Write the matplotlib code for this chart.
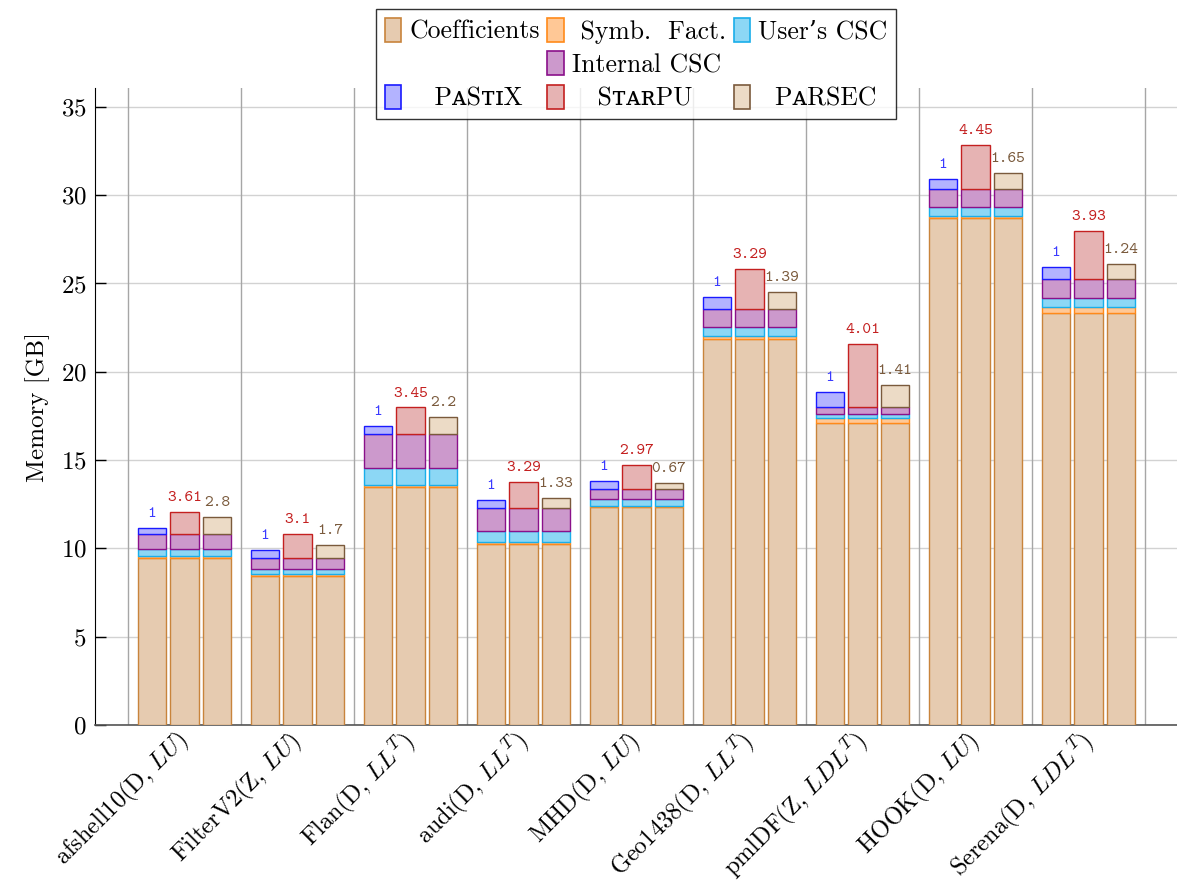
from __future__ import annotations

import matplotlib

matplotlib.use("Agg")
import matplotlib.pyplot as plt
import matplotlib.transforms as mtransforms
import numpy as np
from matplotlib.patches import Rectangle

plt.rcParams["font.family"] = ["cmr10", "DejaVu Serif"]
plt.rcParams["mathtext.fontset"] = "cm"
plt.rcParams["axes.formatter.use_mathtext"] = True
plt.rcParams["axes.unicode_minus"] = False

matrices = [
    "afshell10(D, $LU$)",
    "FilterV2(Z, $LU$)",
    "Flan(D, $LL^T$)",
    "audi(D, $LL^T$)",
    "MHD(D, $LU$)",
    "Geo1438(D, $LL^T$)",
    "pmlDF(Z, $LDL^T$)",
    "HOOK(D, $LU$)",
    "Serena(D, $LDL^T$)",
]

# shared memory parts (GB)
coefficients = [9.45, 8.45, 13.5, 10.27, 12.32, 21.84, 17.08, 28.69, 23.31]
symb_fact = [0.10, 0.10, 0.10, 0.08, 0.08, 0.21, 0.29, 0.15, 0.34]
user_csc = [0.42, 0.30, 0.97, 0.65, 0.41, 0.51, 0.22, 0.51, 0.55]
internal_csc = [0.85, 0.59, 1.89, 1.27, 0.57, 1.01, 0.40, 0.98, 1.04]

# runtime specific overhead (GB)
pastix_extra = [0.35, 0.45, 0.45, 0.45, 0.45, 0.68, 0.89, 0.57, 0.69]
starpu_extra = [1.25, 1.38, 1.52, 1.48, 1.32, 2.26, 3.58, 2.50, 2.72]
parsec_extra = [0.97, 0.77, 0.97, 0.60, 0.30, 0.95, 1.25, 0.93, 0.86]

pastix_ratio = ["1", "1", "1", "1", "1", "1", "1", "1", "1"]
starpu_ratio = ["3.61", "3.1", "3.45", "3.29", "2.97", "3.29", "4.01", "4.45", "3.93"]
parsec_ratio = ["2.8", "1.7", "2.2", "1.33", "0.67", "1.39", "1.41", "1.65", "1.24"]

yticks = [0, 5, 10, 15, 20, 25, 30, 35]

base_parts = [
    ("Coefficients", coefficients, "#e6cbb0", "#c8843c"),
    (" Symb.  Fact.", symb_fact, "#ffc896", "#ff8a1a"),
    ("User\u2019s CSC", user_csc, "#8cd7f5", "#19aeea"),
    ("Internal CSC", internal_csc, "#cc99cc", "#8a108a"),
]
runtimes = [
    ("   P\u1d00S\u1d1b\u026aX", pastix_extra, pastix_ratio, "#b3b3ff", "#1a1aff", "#3a3aff"),
    ("   S\u1d1b\u1d00\u0280PU", starpu_extra, starpu_ratio, "#e6b3b3", "#c42020", "#c42020"),
    ("  P\u1d00RSEC", parsec_extra, parsec_ratio, "#ecdbc6", "#7a5a3c", "#7a5a3c"),
]

fig = plt.figure(figsize=(11.77, 8.89), dpi=100)
ax = fig.add_axes([95 / 1177, 1 - 725 / 889, 1 - 95 / 1177, (725 - 88) / 889])

x = np.arange(len(matrices))
step = 0.288
width = 0.25

for k, (rt_name, extra, ratios, fc, ec, tc) in enumerate(runtimes):
    xs = x + (k - 1) * step
    bottom = np.zeros(len(matrices))
    for name, vals, pfc, pec in base_parts:
        vals = np.asarray(vals, dtype=float)
        ax.bar(xs, vals, width, bottom=bottom, color=pfc, edgecolor=pec, linewidth=1.0, zorder=3)
        bottom = bottom + vals
    extra = np.asarray(extra, dtype=float)
    ax.bar(xs, extra, width, bottom=bottom, color=fc, edgecolor=ec, linewidth=1.0, zorder=3)
    top = bottom + extra
    for xi, yi, lab in zip(xs, top, ratios):
        ax.annotate(lab, (xi, yi), xytext=(0, 5), textcoords="offset points",
                    ha="center", va="bottom", fontsize=12, color=tc, family="cmtt10")

# group separators and grid
for sep in np.arange(len(matrices) + 1) - 0.5:
    ax.axvline(sep, color="#a6a6a6", linewidth=1.0, zorder=1)
ax.set_yticks(yticks)
ax.yaxis.grid(True, color="#d2d2d2", linewidth=1.0, zorder=0)
ax.set_axisbelow(True)

ax.set_xlim(-0.792, 8.783)
ax.set_ylim(0, 36.07)
ax.set_xticks(x)
ax.set_xticklabels(matrices, rotation=45, ha="right", va="center", rotation_mode="anchor", fontsize=17.5)
shift = mtransforms.ScaledTranslation(-5 / 100, 0, fig.dpi_scale_trans)
for lab in ax.get_xticklabels():
    lab.set_transform(lab.get_transform() + shift)
ax.tick_params(axis="x", length=0, pad=9)
ax.tick_params(axis="y", direction="in", length=8, width=1.0, labelsize=18, pad=6)
ax.set_ylabel("Memory [GB]", fontsize=18, labelpad=8)

ax.spines["top"].set_visible(False)
ax.spines["right"].set_visible(False)
ax.spines["left"].set_color("black")
ax.spines["bottom"].set_color("#555555")
ax.spines["bottom"].set_linewidth(1.2)

# legend, filled column-wise
def patch(fc, ec):
    return Rectangle((0, 0), 1, 1, facecolor=fc, edgecolor=ec, linewidth=1.2)

blank = Rectangle((0, 0), 1, 1, visible=False)
h = [patch(p[2], p[3]) for p in base_parts]
r = [patch(p[3], p[4]) for p in runtimes]
handles = [h[0], blank, r[0], h[1], h[3], r[1], h[2], blank, r[2]]
labels = [base_parts[0][0], "", runtimes[0][0], base_parts[1][0], base_parts[3][0],
          runtimes[1][0], base_parts[2][0], "", runtimes[2][0]]
leg = fig.legend(handles, labels, loc="upper center", bbox_to_anchor=(636 / 1177, 1 - 9 / 889),
                 ncol=3, fontsize=18.5, frameon=True, fancybox=False, edgecolor="black",
                 handlelength=0.65, handleheight=1.05, handletextpad=0.3, columnspacing=0.3,
                 labelspacing=0.3, borderpad=0.35, borderaxespad=0.0)
leg.get_frame().set_linewidth(1.0)

fig.savefig("out.png", dpi=100)
plt.close(fig)
